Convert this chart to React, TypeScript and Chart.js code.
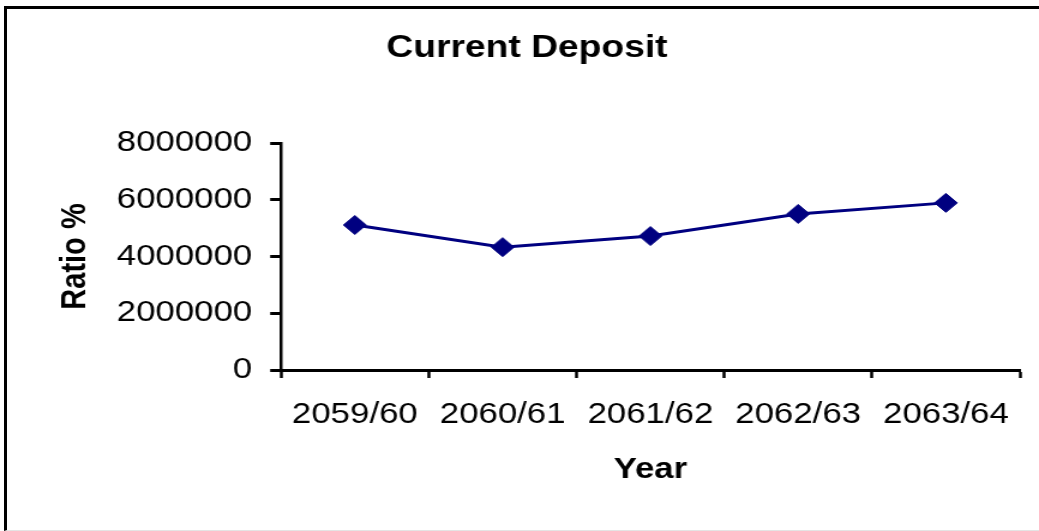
import React, { useEffect, useRef } from "react";
import { Chart, registerables } from "chart.js";

Chart.register(...registerables);

const categories = ["2059/60", "2060/61", "2061/62", "2062/63", "2063/64"];
const currentDeposit = [5110000, 4330000, 4720000, 5500000, 5890000];
const yTickValues = [0, 2000000, 4000000, 6000000, 8000000];
const chartTitle = "Current Deposit";
const xTitle = "Year";
const yTitle = "Ratio %";

const FULL_W = 1039;
const FULL_H = 531;
const LOGICAL_W = 866;
const STRETCH = FULL_W / LOGICAL_W;
const FONT = "'Liberation Sans', Arial, Helvetica, sans-serif";

export default function App() {
  const canvasRef = useRef<HTMLCanvasElement | null>(null);

  useEffect(() => {
    const canvas = canvasRef.current;
    if (!canvas) return;
    const chart = new Chart(canvas, {
      type: "line",
      data: {
        labels: categories,
        datasets: [
          {
            data: currentDeposit,
            borderColor: "#000080",
            backgroundColor: "#000080",
            borderWidth: 3,
            pointStyle: "rectRot",
            pointRadius: 9.5,
            pointBorderWidth: 1,
            pointBackgroundColor: "#000080",
            pointBorderColor: "#000080",
            tension: 0,
            fill: false,
          },
        ],
      },
      options: {
        responsive: false,
        animation: false,
        devicePixelRatio: 1,
        layout: { padding: { left: 28.4, right: 16, top: 0, bottom: 0 } },
        plugins: {
          legend: { display: false },
          tooltip: { enabled: false },
          title: {
            display: true,
            text: chartTitle,
            color: "#000",
            font: { family: FONT, size: 31, weight: "bold" },
            padding: { top: 29.4, bottom: 76.4 },
          },
        },
        scales: {
          x: {
            type: "category",
            offset: true,
            grid: {
              offset: true,
              drawOnChartArea: false,
              drawTicks: true,
              tickLength: 8,
              tickWidth: 2.5,
              tickColor: "#000",
              color: "#000",
            },
            border: { display: true, color: "#000", width: 3 },
            ticks: {
              color: "#000",
              font: { family: FONT, size: 29 },
              padding: 20,
              maxRotation: 0,
              autoSkip: false,
            },
            title: {
              display: true,
              text: xTitle,
              color: "#000",
              font: { family: FONT, size: 29, weight: "bold" },
              padding: { top: 0, bottom: 43.6 },
            },
            afterFit: (scale: any) => {
              scale.height = 161;
            },
          },
          y: {
            min: yTickValues[0],
            max: yTickValues[yTickValues.length - 1],
            grid: {
              drawOnChartArea: false,
              drawTicks: true,
              tickLength: 9,
              tickWidth: 3,
              tickColor: "#000",
              color: "#000",
            },
            border: { display: true, color: "#000", width: 2.5 },
            ticks: {
              stepSize: yTickValues[1] - yTickValues[0],
              color: "#000",
              font: { family: FONT, size: 29 },
              padding: 15,
              callback: (v: any) => String(v),
            },
            afterBuildTicks: (scale: any) => {
              scale.ticks = yTickValues.map((v) => ({ value: v }));
            },
            title: {
              display: true,
              text: yTitle,
              color: "#000",
              font: { family: FONT, size: 29, weight: "bold" },
              padding: { top: 16.7, bottom: 0 },
            },
            afterFit: (scale: any) => {
              scale.width = 205.8;
            },
          },
        },
      },
    });
    return () => chart.destroy();
  }, []);

  return (
    <div
      style={{
        position: "absolute",
        left: 0,
        top: 0,
        width: FULL_W,
        height: FULL_H,
        overflow: "hidden",
        background: "#fff",
      }}
    >
      <div
        style={{
          position: "absolute",
          left: 4,
          top: 6,
          width: 1080,
          height: 521,
          borderLeft: "3px solid #000",
          borderTop: "3px solid #000",
          borderBottom: "1px solid #e4e4e4",
        }}
      />
      <div
        style={{
          position: "absolute",
          left: 0,
          top: 0,
          width: LOGICAL_W,
          height: FULL_H,
          transform: `scaleX(${STRETCH})`,
          transformOrigin: "0 0",
        }}
      >
        <canvas
          ref={canvasRef}
          width={LOGICAL_W}
          height={FULL_H}
          style={{ display: "block" }}
        />
      </div>
    </div>
  );
}
